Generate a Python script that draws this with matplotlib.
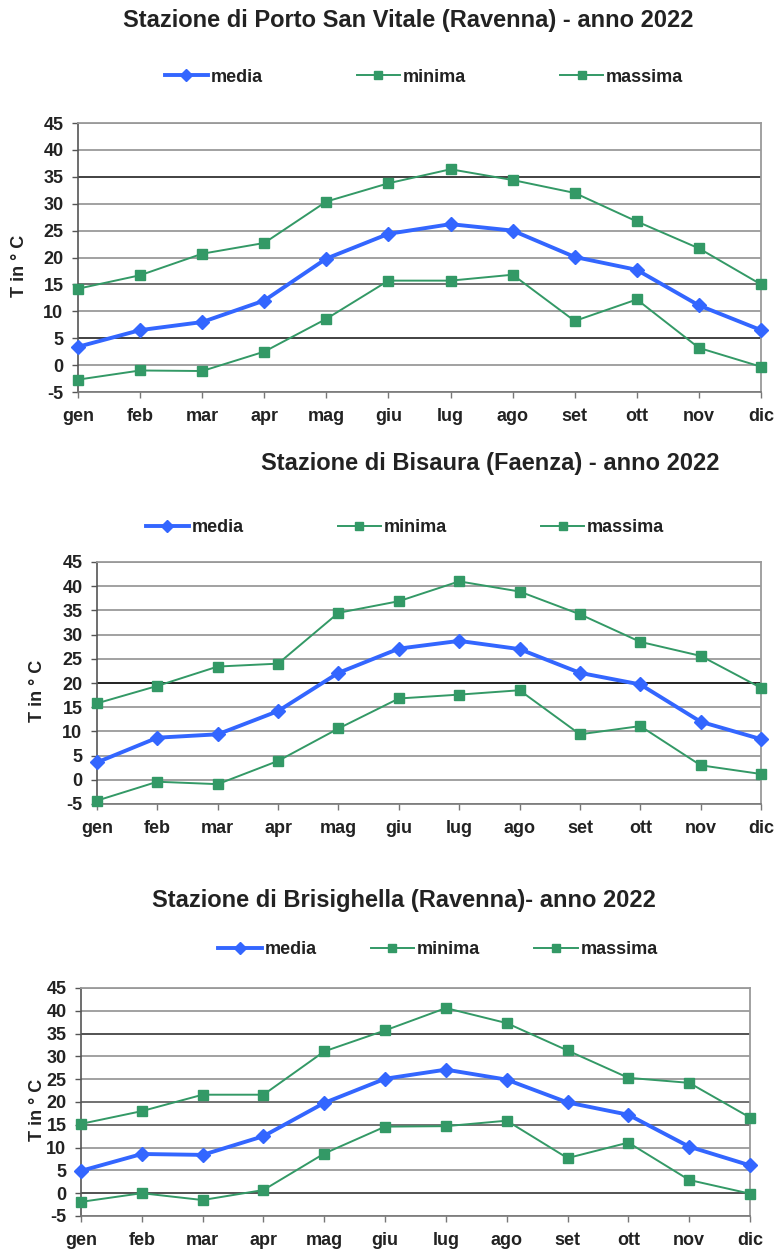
import matplotlib
matplotlib.use("Agg")
import matplotlib.pyplot as plt

plt.rcParams['font.family'] = ['Liberation Sans', 'DejaVu Sans']
plt.rcParams['font.weight'] = 'bold'

months = ["gen", "feb", "mar", "apr", "mag", "giu", "lug", "ago", "set", "ott", "nov", "dic"]
y_ticks = [-5, 0, 5, 10, 15, 20, 25, 30, 35, 40, 45]
series_names = ["media", "minima", "massima"]

# Porto San Vitale (Ravenna)
psv_media = [3.4, 6.5, 8.0, 12.0, 19.8, 24.4, 26.2, 25.0, 20.1, 17.7, 11.1, 6.5]
psv_minima = [-2.7, -1.0, -1.1, 2.5, 8.6, 15.7, 15.7, 16.8, 8.2, 12.2, 3.2, -0.3]
psv_massima = [14.2, 16.7, 20.7, 22.7, 30.4, 33.8, 36.4, 34.4, 32.0, 26.7, 21.7, 15.0]

# Bisaura (Faenza)
bis_media = [3.6, 8.7, 9.4, 14.2, 22.1, 27.1, 28.7, 27.0, 22.1, 19.7, 12.0, 8.4]
bis_minima = [-4.3, -0.4, -0.9, 3.9, 10.6, 16.8, 17.6, 18.5, 9.4, 11.1, 3.0, 1.2]
bis_massima = [15.8, 19.4, 23.4, 24.0, 34.5, 36.9, 41.0, 38.9, 34.2, 28.5, 25.6, 19.0]

# Brisighella (Ravenna)
bri_media = [4.9, 8.6, 8.4, 12.5, 19.8, 25.1, 27.1, 24.9, 19.9, 17.2, 10.2, 6.1]
bri_minima = [-1.9, 0.0, -1.5, 0.7, 8.7, 14.6, 14.7, 15.9, 7.7, 11.1, 2.9, -0.1]
bri_massima = [15.2, 18.0, 21.6, 21.6, 31.1, 35.7, 40.6, 37.3, 31.3, 25.3, 24.2, 16.6]

titles = [
    "Stazione di Porto San Vitale (Ravenna) - anno 2022",
    "Stazione di Bisaura (Faenza) - anno 2022",
    "Stazione di Brisighella (Ravenna)- anno 2022",
]
stations = [
    (psv_media, psv_minima, psv_massima),
    (bis_media, bis_minima, bis_massima),
    (bri_media, bri_minima, bri_massima),
]

W, H = 777, 1252
BLUE = "#3366FF"
GREEN = "#339966"

# pixel layout per panel: axes box (left, right, top, bottom), title (x, y),
# legend centre (x, y), legend column gap, y label x, darker grid lines
layout = [
    dict(box=(78, 761, 123, 392), title=(408, 20), leg=(424, 77), gap=5.2,
         ylab=20, dark={35: "#333333", 5: "#333333", 15: "#666666"}),
    dict(box=(97, 761, 562, 804), title=(490, 463), leg=(405, 528), gap=5.2,
         ylab=37, dark={20: "#111111"}),
    dict(box=(81, 750, 988, 1216), title=(404, 900), leg=(438, 950), gap=3.0,
         ylab=37, dark={35: "#444444", 0: "#444444", 15: "#666666", 20: "#666666"}),
]

fig = plt.figure(figsize=(W / 100, H / 100), dpi=100)

for (media, minima, massima), title, lay in zip(stations, titles, layout):
    l, r, t, b = lay["box"]
    ax = fig.add_axes([l / W, 1 - b / H, (r - l) / W, (b - t) / H])
    x = list(range(len(months)))

    for v in y_ticks:
        col = lay["dark"].get(v, "#9a9a9a")
        ax.axhline(v, color=col, lw=1.3, zorder=1)

    ax.plot(x, media, color=BLUE, lw=2.8, marker="D", markersize=7,
            label=series_names[0], zorder=6, clip_on=False)
    ax.plot(x, minima, color=GREEN, lw=1.4, marker="s", markersize=7,
            label=series_names[1], zorder=6, clip_on=False)
    ax.plot(x, massima, color=GREEN, lw=1.4, marker="s", markersize=7,
            label=series_names[2], zorder=6, clip_on=False)

    ax.set_xlim(0, 11)
    ax.set_ylim(-5, 45)
    ax.set_xticks(x)
    ax.set_xticklabels(months)
    ax.set_yticks(y_ticks)
    ax.set_yticklabels([str(v) for v in y_ticks])
    ax.tick_params(axis="both", labelsize=13, colors="#222222",
                   direction="out", length=4.5, width=1.0)
    ax.tick_params(axis="x", pad=7, color="#777777")
    ax.tick_params(axis="y", pad=6, color="#555555")
    for lab in ax.get_xticklabels() + ax.get_yticklabels():
        lab.set_fontweight("bold")

    for side in ["top", "right"]:
        ax.spines[side].set_color("#9a9a9a")
        ax.spines[side].set_linewidth(1.3)
    ax.spines["left"].set_color("#555555")
    ax.spines["bottom"].set_color("#777777")
    ax.spines["left"].set_linewidth(1.2)
    ax.spines["bottom"].set_linewidth(1.2)
    for sp in ax.spines.values():
        sp.set_zorder(5)

    tx, ty = lay["title"]
    fig.text(tx / W, 1 - ty / H, title, ha="center", va="center",
             fontsize=17, fontweight="bold", color="#222222")

    lx, ly = lay["leg"]
    leg = ax.legend(loc="center", bbox_to_anchor=(lx / W, 1 - ly / H),
                    bbox_transform=fig.transFigure, ncol=3, frameon=False,
                    fontsize=13, handlelength=2.4, handletextpad=0.15,
                    columnspacing=lay["gap"], borderaxespad=0, markerscale=0.85)
    for txt in leg.get_texts():
        txt.set_fontweight("bold")
        txt.set_color("#222222")

    fig.text(lay["ylab"] / W, 1 - ((t + b) / 2 + 8) / H, "T in ° C",
             rotation=90, ha="center", va="center", fontsize=13,
             fontweight="bold", color="#222222")

fig.savefig("out.png", dpi=100, facecolor="white")
